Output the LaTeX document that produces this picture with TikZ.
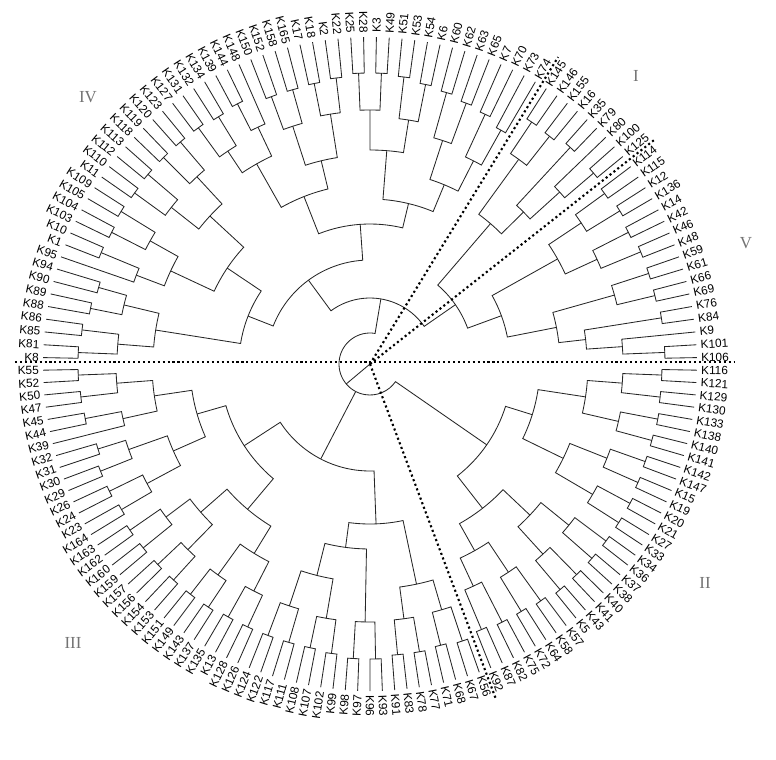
\documentclass[tikz,border=0pt]{standalone}
\usepackage{fontspec}
\setmainfont{Liberation Serif}
\newfontfamily\leaffont{Liberation Sans}
\usetikzlibrary{calc}

\tikzset{
  branch/.style={line width=0.6pt, black!85},
  leaf/.style={font=\leaffont\fontsize{8.4}{9}\selectfont, inner sep=0pt},
  sepline/.style={dotted, line width=1.5pt},
  roman/.style={font=\fontsize{12}{12}\selectfont, black!55},
}

% join two clades (#2, #3) into #1 at radius #4
\newcommand\jc[4]{%
  \edef\ja{\csname A@#2\endcsname}%
  \edef\jb{\csname A@#3\endcsname}%
  \edef\ra{\csname R@#2\endcsname}%
  \edef\rb{\csname R@#3\endcsname}%
  \pgfmathsetmacro\jm{(\ja+\jb)/2}%
  \expandafter\xdef\csname A@#1\endcsname{\jm}%
  \expandafter\xdef\csname R@#1\endcsname{#4}%
  \coordinate (#1) at (\jm:#4);
  \draw[branch] (\ja:\ra) -- (\ja:#4) arc[start angle=\ja, end angle=\jb, radius=#4] -- (\jb:\rb);
}

\begin{document}
\begin{tikzpicture}[x=0.025cm, y=0.025cm]
  \useasboundingbox (-370,-395) rectangle (406,364);

  % leaves: 80 above the horizontal, 83 below
  \foreach \t [count=\i] in {K8,K81,K85,K86,K88,K89,K90,K94,K95,K1,K10,K103,K104,K105,K109,K11,K110,K112,K113,K118,K119,K120,K123,K127,K131,K132,K134,K139,K144,K148,K150,K152,K158,K165,K17,K18,K2,K22,K25,K28,K3,K49,K51,K53,K54,K6,K60,K62,K63,K65,K7,K70,K73,K74,
      K145,K146,K155,K16,K35,K79,K80,K100,K125,
      K114,K115,K12,K136,K14,K42,K46,K48,K59,K61,K66,K69,K76,K84,K9,K101,K106,
      K116,K121,K129,K130,K133,K138,K140,K141,K142,K147,K15,K19,K20,K21,K27,K33,K34,K36,K37,K38,K40,K41,K43,K5,K57,K58,K64,K72,K75,K82,K87,K92,
      K56,K67,K68,K71,K77,K78,K83,K91,K93,K96,K97,K98,K99,K102,K107,K108,K111,K117,K122,K124,K126,K128,K13,K135,K137,K143,K149,K151,K153,K154,K156,K157,K159,K160,K162,K163,K164,K23,K24,K26,K29,K30,K31,K32,K39,K44,K45,K47,K50,K52,K55}{
    \pgfmathsetmacro\la{\i<=80 ? 180-(\i-0.5)*2.25 : -(\i-80.5)*180/83}
    \expandafter\xdef\csname A@l\i\endcsname{\la}
    \expandafter\xdef\csname R@l\i\endcsname{327}
    \pgfmathtruncatemacro\rside{abs(\la)<=90 ? 1 : 0}
    \ifnum\rside=1
      \node[leaf, rotate=\la, anchor=west] (k\i) at (\la:331) {\t};
    \else
      \node[leaf, rotate=\la+180, anchor=east] (k\i) at (\la:331) {\t};
    \fi
  }

  % cluster IV
  \jc{p1}{l1}{l2}{292}
  \jc{p2}{l3}{l4}{290}
  \jc{q1}{p1}{p2}{253}
  \jc{p3}{l5}{l6}{285}
  \jc{p4}{l7}{l8}{282}
  \jc{q2}{p3}{p4}{253}
  \jc{s1}{q1}{q2}{217}
  \jc{p5}{l10}{l11}{291}
  \jc{q3}{l9}{p5}{250}
  \jc{p6}{l12}{l13}{290}
  \jc{p7}{l14}{l15}{292}
  \jc{q4}{p6}{p7}{252}
  \jc{s2}{q3}{q4}{220}
  \jc{p8}{l16}{l17}{291}
  \jc{p9}{l18}{l19}{292}
  \jc{q5}{p8}{p9}{253}
  \jc{p10}{l20}{l21}{292}
  \jc{p11}{l22}{l23}{292}
  \jc{q6}{p10}{p11}{255}
  \jc{s3}{q5}{q6}{218}
  \jc{t1}{s2}{s3}{172}
  \jc{u1}{s1}{t1}{131}
  \jc{p12}{l24}{l25}{292}
  \jc{p13}{l26}{l27}{290}
  \jc{q7}{p12}{p13}{256}
  \jc{p14}{l28}{l29}{292}
  \jc{q8}{p14}{l30}{262}
  \jc{s4}{q7}{q8}{230}
  \jc{p15}{l31}{l32}{285}
  \jc{p16}{l33}{l34}{285}
  \jc{q9}{p15}{p16}{250}
  \jc{p17}{l35}{l36}{286}
  \jc{p18}{l37}{l38}{288}
  \jc{q10}{p17}{p18}{253}
  \jc{s5}{q9}{q10}{209}
  \jc{t2}{s4}{s5}{180}
  \jc{p20}{l39}{l40}{291}
  \jc{p21}{l41}{l42}{291}
  \jc{q11}{p20}{p21}{254}
  \jc{p22}{l43}{l44}{289}
  \jc{p23}{l45}{l46}{285}
  \jc{q12}{p22}{p23}{247}
  \jc{s6}{q11}{q12}{214}
  \jc{p24}{l47}{l48}{282}
  \jc{p25}{l49}{l50}{278}
  \jc{q13}{p24}{p25}{235}
  \jc{p26}{l51}{l52}{275}
  \jc{p27}{l53}{l54}{268}
  \jc{q14}{p26}{p27}{228}
  \jc{s7}{q13}{q14}{194}
  \jc{t3}{s6}{s7}{165}
  \jc{t4}{t2}{t3}{140}
  \jc{cIV}{u1}{t4}{104}

  % cluster I
  \jc{i1}{l55}{l56}{291}
  \jc{i2}{l57}{l58}{290}
  \jc{i3}{i1}{i2}{253}
  \jc{i4}{l59}{l60}{295}
  \jc{i5}{l62}{l63}{294}
  \jc{i6}{l61}{i5}{256}
  \jc{i7}{i4}{i6}{216}
  \jc{cI}{i3}{i7}{185}

  % cluster V
  \jc{v1}{l64}{l65}{290}
  \jc{v2}{l66}{l67}{293}
  \jc{v3}{v1}{v2}{254}
  \jc{v4}{l68}{l69}{290}
  \jc{v5}{l70}{l71}{293}
  \jc{v6}{v4}{v5}{250}
  \jc{v7}{v3}{v6}{215}
  \jc{v8}{l72}{l73}{293}
  \jc{v9}{l74}{l75}{293}
  \jc{v10}{v8}{v9}{254}
  \jc{v11}{l76}{l77}{295}
  \jc{v12}{l79}{l80}{295}
  \jc{v13}{l78}{v12}{253}
  \jc{v14}{v11}{v13}{217}
  \jc{v15}{v10}{v14}{190}
  \jc{cV}{v7}{v15}{140}
  \jc{cIV5}{cI}{cV}{104}
  \jc{top}{cIV}{cIV5}{66}

  % cluster II
  \jc{w1}{l81}{l82}{292}
  \jc{w2}{l83}{l84}{292}
  \jc{w3}{w1}{w2}{253}
  \jc{w4}{l85}{l86}{293}
  \jc{w5}{l87}{l88}{292}
  \jc{w6}{w4}{w5}{255}
  \jc{w7}{w3}{w6}{218}
  \jc{w8}{l89}{l90}{292}
  \jc{w9}{l91}{l92}{293}
  \jc{w10}{w8}{w9}{255}
  \jc{w11}{l93}{l94}{295}
  \jc{w12}{l95}{l96}{295}
  \jc{w13}{w11}{w12}{258}
  \jc{w14}{w10}{w13}{215}
  \jc{w15}{l97}{l98}{295}
  \jc{w16}{l99}{l100}{295}
  \jc{w17}{w15}{w16}{256}
  \jc{w18}{l101}{l102}{295}
  \jc{w19}{l103}{l104}{295}
  \jc{w20}{w18}{w19}{257}
  \jc{w21}{w17}{w20}{220}
  \jc{w23}{l105}{l106}{292}
  \jc{w24}{l107}{l108}{290}
  \jc{w25}{w23}{w24}{250}
  \jc{w26}{l109}{l110}{290}
  \jc{w27}{l111}{l112}{288}
  \jc{w28}{w26}{w27}{245}
  \jc{w29}{w25}{w28}{214}
  \jc{w22}{w7}{w14}{170}
  \jc{w30}{w21}{w29}{183}
  \jc{cII}{w22}{w30}{142}

  % cluster III
  \jc{x1}{l113}{l114}{292}
  \jc{x2}{l115}{l116}{290}
  \jc{x3}{x1}{x2}{256}
  \jc{x4}{l117}{l118}{292}
  \jc{x5}{l119}{l120}{292}
  \jc{x6}{x4}{x5}{257}
  \jc{x7}{x3}{x6}{225}
  \jc{x8}{l121}{l122}{295}
  \jc{x9}{l123}{l124}{295}
  \jc{x10}{x8}{x9}{258}
  \jc{x12}{l125}{l126}{292}
  \jc{x13}{l127}{l128}{290}
  \jc{x14}{x12}{x13}{258}
  \jc{x15}{l129}{l130}{290}
  \jc{x16}{l131}{l132}{290}
  \jc{x17}{x15}{x16}{255}
  \jc{x18}{x14}{x17}{218}
  \jc{x11}{x10}{x18}{185}
  \jc{x19}{x7}{x11}{160}
  \jc{x20}{l133}{l134}{290}
  \jc{x21}{l135}{l136}{290}
  \jc{x22}{x20}{x21}{255}
  \jc{x23}{l137}{l138}{292}
  \jc{x24}{l139}{l140}{292}
  \jc{x25}{x23}{x24}{260}
  \jc{x26}{x22}{x25}{222}
  \jc{x27}{l141}{l142}{292}
  \jc{x28}{l143}{l144}{292}
  \jc{x29}{x27}{x28}{260}
  \jc{x30}{l145}{l146}{292}
  \jc{x31}{l147}{l148}{292}
  \jc{x32}{x30}{x31}{255}
  \jc{x33}{x29}{x32}{225}
  \jc{x34}{x26}{x33}{190}
  \jc{y11}{l149}{l150}{288}
  \jc{y10}{l151}{l152}{290}
  \jc{y12}{y11}{y10}{253}
  \jc{y8}{l153}{l154}{290}
  \jc{y7}{l155}{l156}{285}
  \jc{y9}{y8}{y7}{256}
  \jc{y13}{y12}{y9}{215}
  \jc{y4}{l158}{l159}{290}
  \jc{y5}{l157}{y4}{253}
  \jc{y2}{l160}{l161}{291}
  \jc{y1}{l162}{l163}{292}
  \jc{y3}{y2}{y1}{254}
  \jc{y6}{y5}{y3}{218}
  \jc{y14}{y13}{y6}{180}
  \jc{x49}{x34}{y14}{150}
  \jc{cIII}{x19}{x49}{107}

  % root
  \coordinate (root) at (0,0);
  \pgfmathsetmacro\aTop{\csname A@top\endcsname}
  \pgfmathsetmacro\aII{\csname A@cII\endcsname+360}
  \pgfmathsetmacro\aIII{\csname A@cIII\endcsname}
  \draw[branch] (\aTop:66) -- (\aTop:31) arc[start angle=\aTop, end angle=\aII, radius=31] -- (\aII:142);
  \draw[branch] (\aIII:31) -- (\aIII:107);
  \draw[branch] (root) -- (220:31);

  % cluster borders
  \coordinate (eW) at (-355,2);
  \coordinate (eE) at (365,2);
  \coordinate (eI) at (58.5:360);
  \coordinate (eV) at (38.25:362);
  \coordinate (eS) at (-69.4:358);
  \draw[sepline] (eW) -- (eE);
  \draw[sepline] (root) -- (eI);
  \draw[sepline] (root) -- (eV);
  \draw[sepline] (root) -- (eS);

  \node[roman] (nIV) at (-282,267) {IV};
  \node[roman] (nI) at (266,288) {I};
  \node[roman] (nV) at (376,121) {V};
  \node[roman] (nII) at (335,-219) {II};
  \node[roman] (nIII) at (-297,-279) {III};
\end{tikzpicture}
\end{document}
